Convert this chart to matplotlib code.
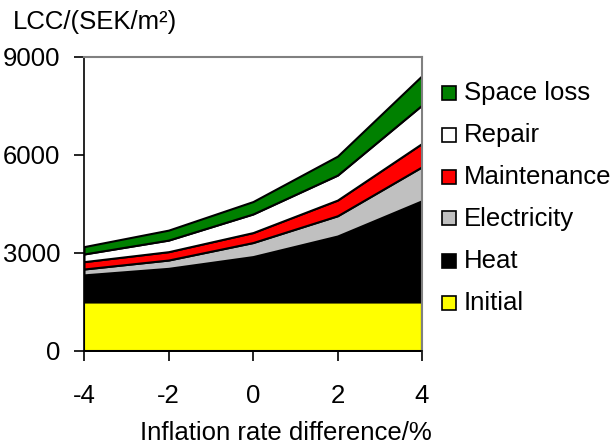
import matplotlib
matplotlib.use("Agg")
import matplotlib.pyplot as plt
from matplotlib.patches import Rectangle

plt.rcParams['font.family'] = ['Liberation Sans', 'DejaVu Sans']

x = [-4, -2, 0, 2, 4]
series_names = ["Initial", "Heat", "Electricity", "Maintenance", "Repair", "Space loss"]
initial = [1500, 1500, 1500, 1500, 1500]
heat = [830, 1030, 1390, 2020, 3100]
electricity = [180, 255, 430, 620, 1040]
maintenance = [225, 255, 305, 480, 715]
repair = [235, 355, 570, 765, 1175]
space_loss = [225, 305, 380, 580, 900]
colors = ["#ffff00", "#000000", "#c0c0c0", "#ff0000", "#ffffff", "#008000"]

yticks = [0, 3000, 6000, 9000]
xticks = [-4, -2, 0, 2, 4]

FS = 18.5

fig = plt.figure(figsize=(6.14, 4.47), dpi=100)
ax = fig.add_axes([84/614, 1-351/447, (422-84)/614, (351-57)/447])

ax.stackplot(x, initial, heat, electricity, maintenance, repair, space_loss,
             colors=colors, edgecolor="black", linewidth=1.5)

ax.set_xlim(-4, 4)
ax.set_ylim(0, 9000)
ax.set_xticks(xticks)
ax.set_xticklabels([str(v) for v in xticks])
ax.set_yticks(yticks)
ax.set_yticklabels([str(v) for v in yticks])
ax.tick_params(axis='both', direction='out', length=7, width=1.2, labelsize=FS, colors='black')
ax.tick_params(axis='y', pad=10)
ax.tick_params(axis='x', pad=17)
for s in ['top', 'right']:
    ax.spines[s].set_color('#808080')
    ax.spines[s].set_linewidth(1.5)
for s in ['left', 'bottom']:
    ax.spines[s].set_color('black')
    ax.spines[s].set_linewidth(1.2)

fig.text(13/614, 1-22/447, "LCC/(SEK/m²)", fontsize=FS, ha='left', va='center')
fig.text(285.5/614, 1-440/447, "Inflation rate difference/%", fontsize=FS, ha='center', va='baseline')

# legend (top to bottom: reverse order)
row_y = [92.7, 135, 176.5, 218.5, 261, 303]
for name, col, yy in zip(series_names[::-1], colors[::-1], row_y):
    fig.patches.append(Rectangle(((442)/614, 1-(yy+7)/447), 14/614, 14/447,
                                 transform=fig.transFigure, facecolor=col,
                                 edgecolor='black', linewidth=1.2))
    fig.text(464/614, 1-yy/447, name, fontsize=FS, ha='left', va='center')

fig.savefig("out.png", dpi=100)
